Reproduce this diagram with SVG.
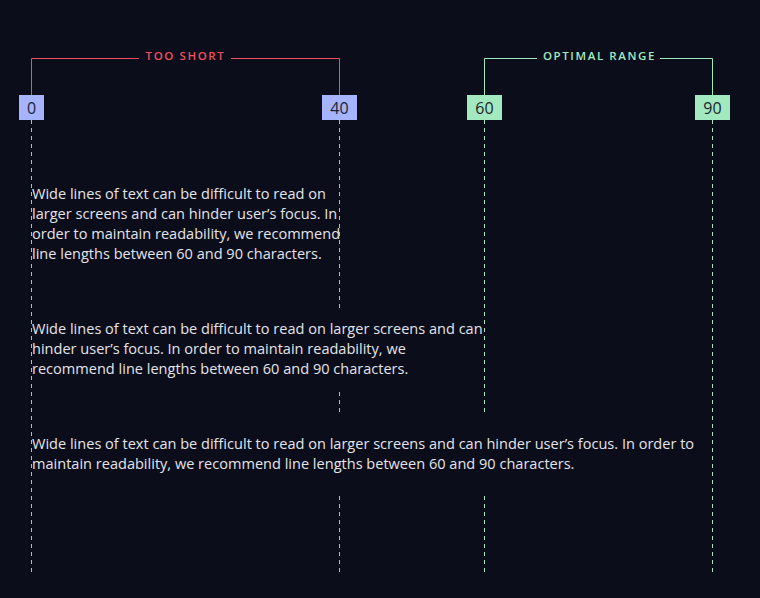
<svg xmlns="http://www.w3.org/2000/svg" width="760" height="598" viewBox="0 0 760 598">
<style>
.bg{fill:#0b0d1a}
.dash-b{stroke:#a5b4fc;stroke-width:1;stroke-dasharray:4 4;fill:none}
.dash-g{stroke:#a3e9bf;stroke-width:1;stroke-dasharray:4 4;fill:none}
.br-r{stroke:#f0505f;stroke-width:1;fill:none}
.br-g{stroke:#a3e9bf;stroke-width:1;fill:none}
.badge-b{fill:#a5b4fc}
.badge-g{fill:#a3e9bf}
.num{font-family:"Open Sans","Noto Sans",sans-serif;font-size:16px;fill:#1c1f33;text-anchor:middle}
.lab{font-family:"Open Sans","Noto Sans",sans-serif;font-size:11.5px;font-weight:600;letter-spacing:1.6px;text-anchor:middle}
.para{font-family:"Open Sans","Noto Sans",sans-serif;font-size:14.55px;fill:#e4e4ea}
</style>
<rect class="bg" x="0" y="0" width="760" height="598"/>
<g id="connectors">
<line class="dash-b" x1="31.5" y1="120" x2="31.5" y2="572"/>
<line class="dash-b" x1="339.5" y1="120" x2="339.5" y2="310"/>
<line class="dash-b" x1="339.5" y1="392" x2="339.5" y2="414"/>
<line class="dash-b" x1="339.5" y1="496" x2="339.5" y2="572"/>
<line class="dash-g" x1="484.5" y1="120" x2="484.5" y2="414"/>
<line class="dash-g" x1="484.5" y1="496" x2="484.5" y2="572"/>
<line class="dash-g" x1="712.5" y1="120" x2="712.5" y2="572"/>
<path class="br-r" d="M31.5 95 V58.5 H139 M231 58.5 H339.5 V95"/>
<path class="br-g" d="M484.5 95 V58.5 H537 M660 58.5 H712.5 V95"/>
</g>
<g id="label-too-short"><text class="lab" x="185.5" y="60" fill="#f0505f">TOO SHORT</text></g>
<g id="label-optimal"><text class="lab" x="599.5" y="60" fill="#a3e9bf">OPTIMAL RANGE</text></g>
<g id="badge-0"><rect class="badge-b" x="19" y="95" width="25" height="25"/><text class="num" x="31.5" y="113.5">0</text></g>
<g id="badge-40"><rect class="badge-b" x="322" y="95" width="35" height="25"/><text class="num" x="339.5" y="113.5">40</text></g>
<g id="badge-60"><rect class="badge-g" x="467" y="95" width="35" height="25"/><text class="num" x="484.5" y="113.5">60</text></g>
<g id="badge-90"><rect class="badge-g" x="695" y="95" width="35" height="25"/><text class="num" x="712.5" y="113.5">90</text></g>
<g id="para-1">
<text class="para" x="32" y="199">Wide lines of text can be difficult to read on</text>
<text class="para" x="32" y="219">larger screens and can hinder user’s focus. In</text>
<text class="para" x="32" y="239">order to maintain readability, we recommend</text>
<text class="para" x="32" y="259">line lengths between 60 and 90 characters.</text>
</g>
<g id="para-2">
<text class="para" x="32" y="334">Wide lines of text can be difficult to read on larger screens and can</text>
<text class="para" x="32" y="354">hinder user’s focus. In order to maintain readability, we</text>
<text class="para" x="32" y="374">recommend line lengths between 60 and 90 characters.</text>
</g>
<g id="para-3">
<text class="para" x="32" y="449">Wide lines of text can be difficult to read on larger screens and can hinder user’s focus. In order to</text>
<text class="para" x="32" y="469">maintain readability, we recommend line lengths between 60 and 90 characters.</text>
</g>
</svg>
